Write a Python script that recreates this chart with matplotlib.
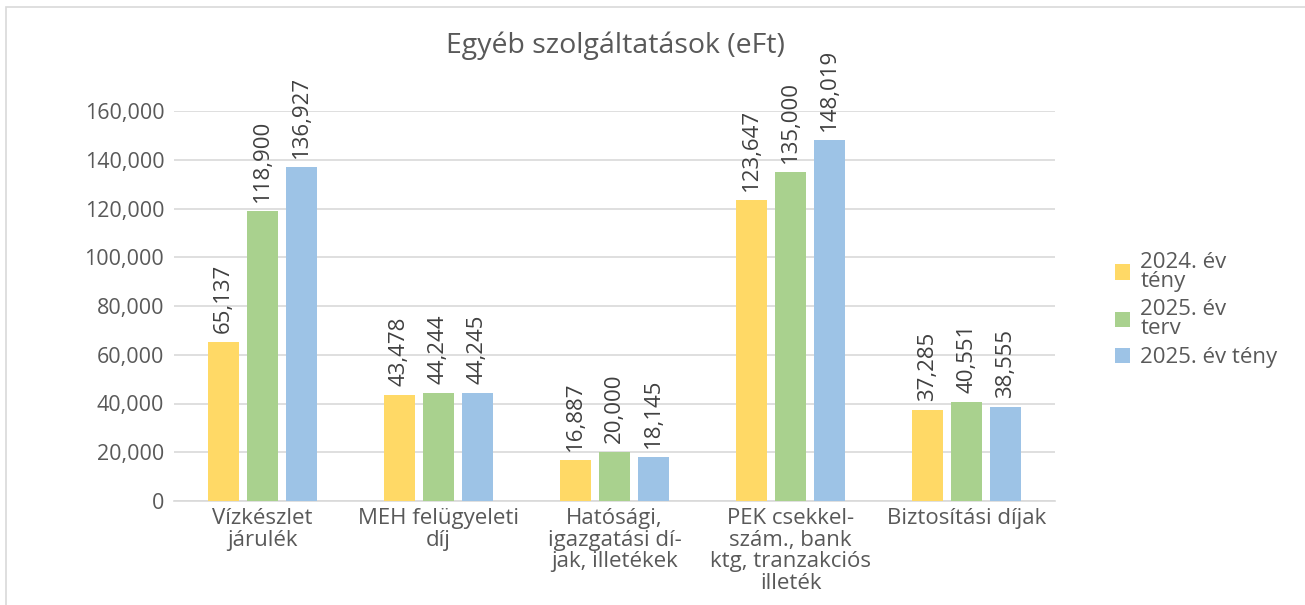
import matplotlib
matplotlib.use("Agg")
import matplotlib.pyplot as plt
from matplotlib.patches import Rectangle
from matplotlib.ticker import FuncFormatter, MultipleLocator
import numpy as np

categories = ["Vízkészlet\njárulék", "MEH felügyeleti\ndíj", "Hatósági,\nigazgatási dí-\njak, illetékek",
              "PEK csekkel-\nszám., bank\nktg, tranzakciós\nilleték", "Biztosítási díjak"]
series_names = ["2024. év\ntény", "2025. év\nterv", "2025. év tény"]
v2024_teny = [65137, 43478, 16887, 123647, 37285]
v2025_terv = [118900, 44244, 20000, 135000, 40551]
v2025_teny = [136927, 44245, 18145, 148019, 38555]
colors = ["#FFD966", "#A9D18E", "#9DC3E6"]

plt.rcParams['font.family'] = ['Open Sans', 'DejaVu Sans']
TXT = "#595959"

W, H = 1305, 605
fig = plt.figure(figsize=(W / 100, H / 100), dpi=100)
fig.patch.set_facecolor("white")
ax = fig.add_axes([174 / W, 1 - 501 / H, (1055 - 174) / W, (501 - 111) / H])

# outer border (only top/left visible in reference)
fig.add_artist(Rectangle((6 / W, -0.05), 1.2, 1 - 7 / H + 0.05, transform=fig.transFigure,
                         fill=False, edgecolor="#D9D9D9", linewidth=1.2))

x = np.arange(len(categories))
bw = 0.176
step = 0.2216
all_series = [v2024_teny, v2025_terv, v2025_teny]
for i, (vals, name, c) in enumerate(zip(all_series, series_names, colors)):
    pos = x + (i - 1) * step
    ax.bar(pos, vals, width=bw, color=c, label=name, zorder=3)
    for p, v in zip(pos, vals):
        ax.annotate(f"{v:,}", (p, v), xytext=(0, 6.5), textcoords="offset points",
                    rotation=90, ha="center", va="bottom", fontsize=16, color="#404040")

ax.set_xlim(-0.5, len(categories) - 0.5)
ax.set_ylim(0, 160000)
ax.yaxis.set_major_locator(MultipleLocator(20000))
ax.yaxis.set_major_formatter(FuncFormatter(lambda v, p: f"{int(v):,}"))
ax.grid(axis="y", color="#D9D9D9", linewidth=1.2, zorder=0)
ax.set_axisbelow(True)
for s in ["top", "right", "left"]:
    ax.spines[s].set_visible(False)
ax.spines["bottom"].set_color("#D9D9D9")
ax.spines["bottom"].set_linewidth(1.2)
ax.tick_params(axis="both", length=0, labelsize=15.5, colors=TXT)
ax.tick_params(axis="y", pad=7)
ax.tick_params(axis="x", pad=5)
ax.set_xticks(x)
ax.set_xticklabels(categories, linespacing=1.04, fontsize=16)

fig.text(615 / W, 1 - 46 / H, "Egyéb szolgáltatások (eFt)", ha="center", va="center",
         fontsize=20.5, color=TXT)

leg = ax.legend(loc="center left", bbox_to_anchor=(1.045, 0.49), frameon=False,
                fontsize=16, handlelength=0.7, handleheight=0.7, handletextpad=0.45,
                labelspacing=0.35, labelcolor=TXT)
for t in leg.get_texts():
    t.set_linespacing(0.88)

fig.savefig("out.png", dpi=100, facecolor="white")
